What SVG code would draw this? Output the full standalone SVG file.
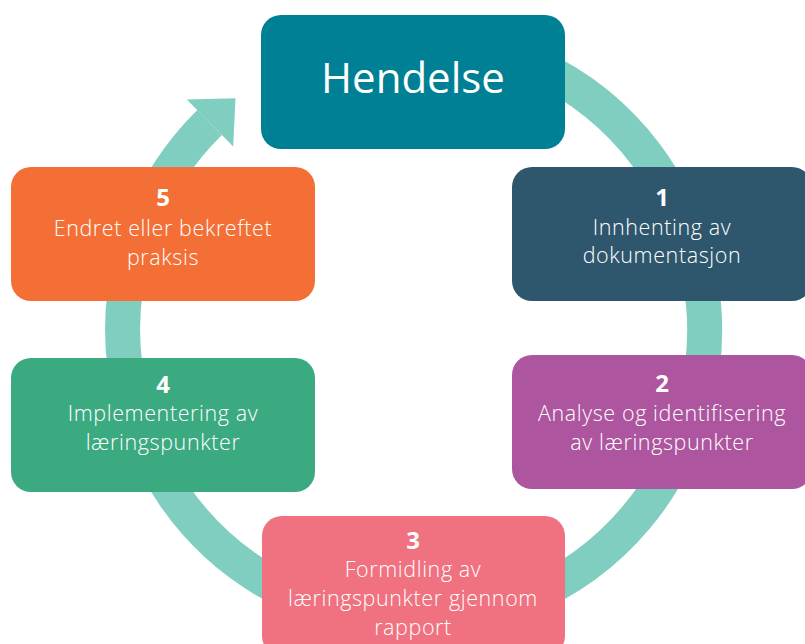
<svg xmlns="http://www.w3.org/2000/svg" width="805" height="644" viewBox="0 0 805 644">
<defs>
<style>
.box{stroke:none}
.t{font-family:"Open Sans","Liberation Sans",sans-serif;font-size:21.5px;letter-spacing:0.6px;fill:#ffffff;text-anchor:middle;font-weight:300}
.n{font-family:"Open Sans","Liberation Sans",sans-serif;font-size:24px;fill:#ffffff;text-anchor:middle;font-weight:700}
.h{font-family:"Open Sans","Liberation Sans",sans-serif;font-size:42px;fill:#ffffff;text-anchor:middle;font-weight:500}
</style>
</defs>
<rect width="805" height="644" fill="#ffffff"/>
<g id="connectors">
<path d="M 415 39 A 291 291 0 1 1 209.6 122.5" fill="none" stroke="#7FCEC0" stroke-width="35"/>
<polygon points="186.8,99.5 233.2,146.5 235.5,98.2" fill="#7FCEC0"/>
</g>
<g id="hendelse">
<rect class="box" x="261" y="15" width="304" height="134" rx="20" fill="#008094"/>
<text class="h" x="413" y="93">Hendelse</text>
</g>
<g id="step1">
<rect class="box" x="512" y="167" width="300" height="134" rx="20" fill="#2E576E"/>
<text class="n" x="662" y="206">1</text>
<text class="t" x="662" y="235">Innhenting av</text>
<text class="t" x="662" y="263">dokumentasjon</text>
</g>
<g id="step2">
<rect class="box" x="512" y="355" width="300" height="134" rx="20" fill="#AD559E"/>
<text class="n" x="662" y="392">2</text>
<text class="t" x="662" y="421">Analyse og identifisering</text>
<text class="t" x="662" y="450">av læringspunkter</text>
</g>
<g id="step3">
<rect class="box" x="262" y="516" width="303" height="140" rx="20" fill="#F07180"/>
<text class="n" x="413" y="549">3</text>
<text class="t" x="413" y="577">Formidling av</text>
<text class="t" x="413" y="606">læringspunkter gjennom</text>
<text class="t" x="413" y="635">rapport</text>
</g>
<g id="step4">
<rect class="box" x="11" y="358" width="304" height="134" rx="20" fill="#3BAA80"/>
<text class="n" x="163" y="393">4</text>
<text class="t" x="163" y="421">Implementering av</text>
<text class="t" x="163" y="450">læringspunkter</text>
</g>
<g id="step5">
<rect class="box" x="11" y="167" width="304" height="134" rx="20" fill="#F36F36"/>
<text class="n" x="163" y="206">5</text>
<text class="t" x="163" y="236">Endret eller bekreftet</text>
<text class="t" x="163" y="265">praksis</text>
</g>
</svg>
